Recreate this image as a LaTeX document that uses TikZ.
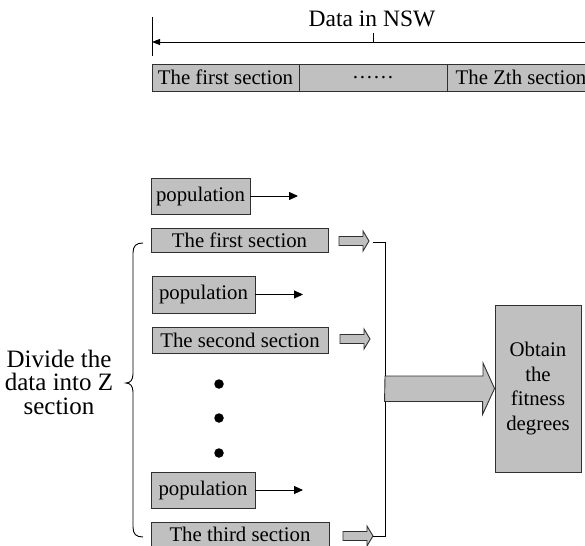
\documentclass[tikz,border=0pt]{standalone}
\usepackage{fontspec}
\setmainfont{Liberation Serif}
\usetikzlibrary{arrows.meta}
\definecolor{boxgray}{HTML}{C0C0C0}
\definecolor{edgegray}{HTML}{303030}
\begin{document}
\begin{tikzpicture}[x=1pt,y=-1pt,
  every node/.style={font=\fontsize{20.8}{24}\selectfont},
  box/.style={draw=edgegray, fill=boxgray, line width=0.9pt, inner sep=0pt},
  thin line/.style={draw=black, line width=0.9pt},
  poparrow/.style={thin line, -{Triangle[length=9pt,width=8pt]}},
  fatarrow/.style={draw=edgegray, fill=boxgray, line width=0.9pt, line join=miter},
  bullet/.style={circle, fill=black, inner sep=0pt, minimum size=9.5pt}
]
\useasboundingbox (0,0) rectangle (585,545);

% ---- whole data range ----
\node[anchor=base, font=\fontsize{23.5}{27}\selectfont] (title) at (372,27) {Data in NSW};
\coordinate (rangeL) at (152,42);
\coordinate (rangeR) at (600,42);
\coordinate (tickTop) at (373,33);
\coordinate (tickBot) at (373,42);
\draw[thin line] (152,17) -- (152,56);
\draw[thin line, -{Triangle[length=8pt,width=6pt]}] (rangeR) -- (rangeL);
\draw[thin line] (tickTop) -- (tickBot);

\node[box, minimum width=147pt, minimum height=27pt] (bar1) at (225.5,77.5) {The first section};
\node[box, minimum width=148pt, minimum height=27pt] (bar2) at (373,77.5) {……};
\node[box, minimum width=148pt, minimum height=27pt] (bar3) at (521,77.5) {The Zth section};

% ---- sections with their populations ----
\node[box, minimum width=99pt, minimum height=36pt] (pop1) at (200.5,196) {population};
\node[box, minimum width=177pt, minimum height=24pt] (sec1) at (239.5,240) {The first section};
\node[box, minimum width=103pt, minimum height=37pt] (pop2) at (203.5,294.5) {population};
\node[box, minimum width=176pt, minimum height=26pt] (sec2) at (240,340) {The second section};
\node[box, minimum width=104pt, minimum height=36pt] (pop3) at (203,490) {population};
\node[box, minimum width=178pt, minimum height=24pt] (sec3) at (240,534) {The third section};

\coordinate (p1end) at (298,196);
\coordinate (p2end) at (303,294.5);
\coordinate (p3end) at (303,490);
\draw[poparrow] (pop1.east) -- (p1end);
\draw[poparrow] (pop2.east) -- (p2end);
\draw[poparrow] (pop3.east) -- (p3end);

\node[bullet] (d1) at (219,384) {};
\node[bullet] (d2) at (219,418) {};
\node[bullet] (d3) at (219,453) {};

% ---- small block arrows out of each section ----
\coordinate (a1) at (339,241);
\coordinate (a2) at (340,339);
\coordinate (a3) at (343,536);
\foreach \a in {a1,a2,a3}{
  \draw[fatarrow] (\a) ++(0,-4.5) -- ++(24,0) -- ++(0,-5.5) -- ++(6,10)
    -- ++(-6,10) -- ++(0,-5.5) -- ++(-24,0) -- cycle;
}

% ---- collecting line ----
\coordinate (c1) at (373,242);
\coordinate (c2) at (385,242);
\coordinate (c3) at (385,536);
\coordinate (c4) at (373,536);
\draw[thin line] (c1) -- (c2) -- (c3) -- (c4);

% ---- result ----
\node[box, minimum width=86pt, minimum height=167pt, align=center,
      font=\fontsize{20.8}{24.7}\selectfont] (fit) at (538,388.5)
      {Obtain\\the\\fitness\\degrees};
\coordinate (big) at (385,389);
\draw[fatarrow] (big) ++(0,-13) -- ++(98,0) -- ++(0,-13) -- (fit.west)
  -- ++(-12,26) -- ++(0,-13) -- ++(-98,0) -- cycle;

% ---- brace and its label ----
\coordinate (brTop) at (143,243);
\coordinate (brTip) at (126,383);
\coordinate (brBot) at (143,537);
\draw[thin line] (brTop) .. controls (136,243) and (133,246) .. (133,253)
  -- (133,374) .. controls (133,380) and (130,383) .. (brTip)
  .. controls (130,383) and (133,386) .. (133,392)
  -- (133,527) .. controls (133,534) and (136,537) .. (brBot);
\node[align=center, font=\fontsize{25}{23.5}\selectfont] (divide) at (59,382)
  {Divide the\\data into Z\\section};
\end{tikzpicture}
\end{document}
